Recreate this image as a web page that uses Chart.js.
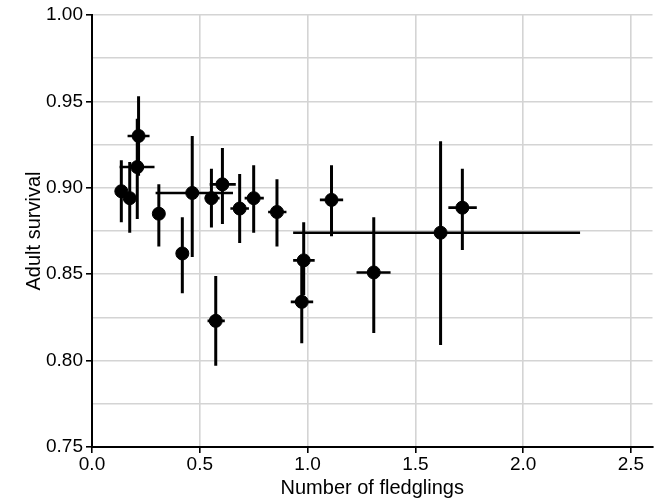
<!DOCTYPE html>
<html>
<head>
<meta charset="utf-8">
<script src="https://cdn.jsdelivr.net/npm/chart.js@4.4.1/dist/chart.umd.min.js"></script>
<style>
  html, body { margin: 0; padding: 0; background: #fff; }
  #chart { display: block; }
</style>
</head>
<body>
<canvas id="chart" width="660" height="502"></canvas>
<script>
// mean fledglings per site vs adult survival, with 95% intervals on both axes
const fledglings = [0.136, 0.175, 0.210, 0.216, 0.310, 0.419, 0.465, 0.554, 0.574, 0.605, 0.685, 0.750, 0.858, 0.973, 0.982, 1.111, 1.307, 1.617, 1.718];
const fledglingsLow = [0.126, 0.165, 0.128, 0.165, 0.300, 0.409, 0.295, 0.523, 0.536, 0.546, 0.642, 0.708, 0.817, 0.922, 0.933, 1.057, 1.227, 0.933, 1.653];
const fledglingsHigh = [0.146, 0.185, 0.290, 0.267, 0.320, 0.429, 0.654, 0.592, 0.616, 0.667, 0.728, 0.797, 0.902, 1.026, 1.033, 1.165, 1.385, 2.264, 1.785];
const survival = [0.898, 0.894, 0.912, 0.930, 0.885, 0.862, 0.897, 0.894, 0.823, 0.902, 0.888, 0.894, 0.886, 0.834, 0.858, 0.893, 0.851, 0.874, 0.8885];
const survivalLow = [0.880, 0.874, 0.882, 0.907, 0.866, 0.839, 0.860, 0.877, 0.797, 0.879, 0.868, 0.874, 0.866, 0.810, 0.838, 0.872, 0.816, 0.809, 0.864];
const survivalHigh = [0.916, 0.915, 0.940, 0.953, 0.902, 0.883, 0.930, 0.911, 0.849, 0.923, 0.908, 0.913, 0.905, 0.855, 0.880, 0.913, 0.883, 0.927, 0.911];
const xTicks = [0, 0.5, 1.0, 1.5, 2.0, 2.5];
const yTicks = [0.75, 0.80, 0.85, 0.90, 0.95, 1.00];

const GRID = '#d4d4d4';
const FONT = '"Liberation Sans", Arial, Helvetica, sans-serif';

const points = fledglings.map((x, i) => ({ x: x, y: survival[i] }));

// whiskers in both directions, drawn under the points
const errorBars = {
    id: 'errorBars',
    beforeDatasetsDraw(chart) {
        const { ctx, chartArea, scales: { x, y } } = chart;
        ctx.save();
        ctx.beginPath();
        ctx.rect(chartArea.left, chartArea.top, chartArea.width, chartArea.height);
        ctx.clip();
        ctx.strokeStyle = '#000';
        ctx.lineCap = 'butt';
        fledglings.forEach((fx, i) => {
            const px = x.getPixelForValue(fx);
            const py = y.getPixelForValue(survival[i]);
            ctx.lineWidth = 3;
            ctx.beginPath();
            ctx.moveTo(px, y.getPixelForValue(survivalLow[i]));
            ctx.lineTo(px, y.getPixelForValue(survivalHigh[i]));
            ctx.stroke();
            ctx.lineWidth = 2.6;
            ctx.beginPath();
            ctx.moveTo(x.getPixelForValue(fledglingsLow[i]), py);
            ctx.lineTo(x.getPixelForValue(fledglingsHigh[i]), py);
            ctx.stroke();
        });
        ctx.restore();
    }
};

const isMajorY = v => yTicks.some(t => Math.abs(t - v) < 1e-6);

new Chart(document.getElementById('chart'), {
    type: 'scatter',
    data: {
        datasets: [{
            data: points,
            backgroundColor: '#000',
            borderColor: '#000',
            pointRadius: 6.5,
            pointHoverRadius: 6.5
        }]
    },
    options: {
        responsive: false,
        animation: false,
        devicePixelRatio: 1,
        layout: { padding: { top: 15, right: 7, left: 0, bottom: 0 } },
        plugins: { legend: { display: false }, tooltip: { enabled: false } },
        scales: {
            x: {
                type: 'linear',
                min: 0,
                max: 2.6,
                afterFit: s => { s.height = 55; },
                afterBuildTicks: s => { s.ticks = xTicks.map(v => ({ value: v })); },
                ticks: {
                    color: '#000',
                    font: { family: FONT, size: 19 },
                    padding: 0,
                    maxRotation: 0,
                    callback: v => v.toFixed(1)
                },
                grid: {
                    color: c => c.tick && c.tick.value === 0 ? 'rgba(0,0,0,0)' : GRID,
                    lineWidth: 1.6,
                    tickColor: '#000',
                    tickLength: 6,
                    tickWidth: 1.6
                },
                border: { color: '#000', width: 2 },
                title: {
                    display: true,
                    text: 'Number of fledglings',
                    color: '#000',
                    font: { family: FONT, size: 20 },
                    padding: { top: 0, bottom: 2 }
                }
            },
            y: {
                type: 'linear',
                min: 0.75,
                max: 1.0,
                afterFit: s => { s.width = 92; },
                afterBuildTicks: s => {
                    const t = [];
                    for (let k = 0; k <= 10; k++) t.push({ value: +(0.75 + k * 0.025).toFixed(3) });
                    s.ticks = t;
                },
                ticks: {
                    color: '#000',
                    font: { family: FONT, size: 19 },
                    padding: 3,
                    autoSkip: false,
                    callback: v => isMajorY(v) ? v.toFixed(2) : ''
                },
                grid: {
                    color: c => c.tick && Math.abs(c.tick.value - 0.75) < 1e-6 ? 'rgba(0,0,0,0)' : GRID,
                    lineWidth: 1.6,
                    tickColor: c => c.tick && isMajorY(c.tick.value) ? '#000' : 'rgba(0,0,0,0)',
                    tickLength: 6,
                    tickWidth: 1.6
                },
                border: { color: '#000', width: 2 },
                title: {
                    display: true,
                    text: 'Adult survival',
                    color: '#000',
                    font: { family: FONT, size: 20 },
                    padding: { top: 22, bottom: 0 }
                }
            }
        }
    },
    plugins: [errorBars]
});
</script>
</body>
</html>
